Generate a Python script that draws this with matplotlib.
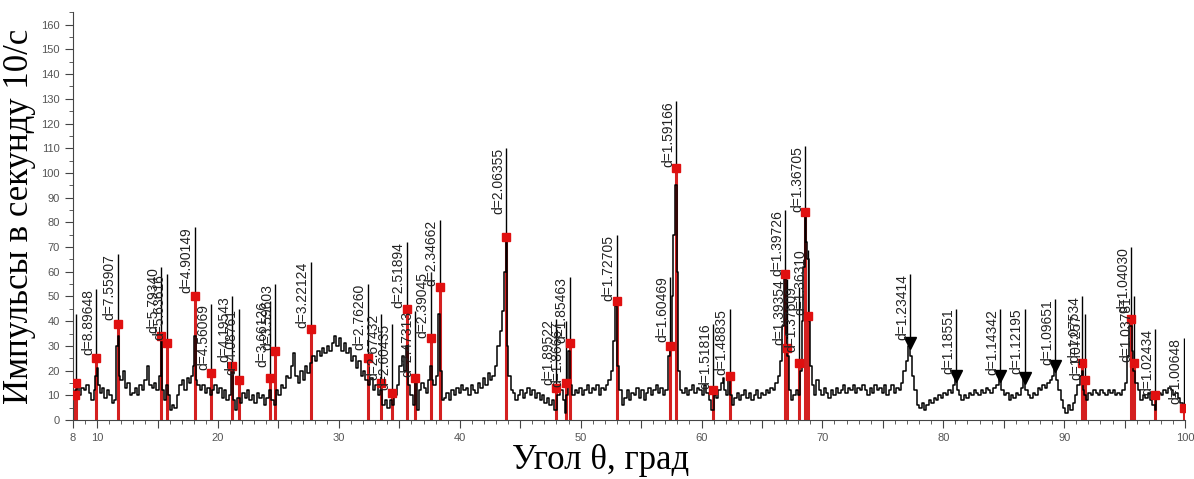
import numpy as np
import matplotlib
matplotlib.use('Agg')
import matplotlib.pyplot as plt

# measured pattern (angle, counts)
theta = [8.15, 8.2, 8.4, 8.6, 8.8, 9.0, 9.2, 9.4, 9.6, 9.8, 9.9, 10.0, 10.1, 10.3, 10.5, 10.7, 10.9, 11.1, 11.3, 11.5,
         11.65, 11.75, 11.85, 12.0, 12.2, 12.4, 12.6, 12.8, 13.0, 13.2, 13.4, 13.6, 13.8, 14.0, 14.2, 14.4, 14.6, 14.8,
         15.0, 15.2, 15.3, 15.4, 15.6, 15.8, 15.9, 16.1, 16.3, 16.5, 16.7, 16.9, 17.1, 17.3, 17.5, 17.7, 17.9, 18.0,
         18.1, 18.2, 18.4, 18.6, 18.8, 19.0, 19.2, 19.45, 19.6, 19.8, 20.0, 20.2, 20.4, 20.6, 20.8, 21.0, 21.2, 21.35,
         21.5, 21.7, 21.9, 22.1, 22.3, 22.5, 22.7, 22.9, 23.1, 23.3, 23.5, 23.7, 23.9, 24.1, 24.3, 24.5, 24.7, 24.9,
         25.1, 25.3, 25.5, 25.7, 25.9, 26.1, 26.3, 26.5, 26.7, 26.9, 27.1, 27.3, 27.5, 27.7, 27.9, 28.1, 28.3, 28.5,
         28.7, 28.9, 29.1, 29.3, 29.5, 29.7, 29.9, 30.1, 30.3, 30.5, 30.7, 30.9, 31.1, 31.3, 31.5, 31.7, 31.9, 32.1,
         32.3, 32.5, 32.7, 32.9, 33.1, 33.3, 33.5, 33.7, 33.9, 34.1, 34.3, 34.5, 34.7, 34.9, 35.1, 35.3, 35.5, 35.65,
         35.8, 36.0, 36.2, 36.35, 36.5, 36.7, 36.9, 37.1, 37.3, 37.5, 37.6, 37.75, 37.9, 38.1, 38.3, 38.45, 38.6, 38.8,
         39.0, 39.2, 39.4, 39.6, 39.8, 40.0, 40.2, 40.4, 40.6, 40.8, 41.0, 41.2, 41.4, 41.6, 41.8, 42.0, 42.2, 42.4,
         42.6, 42.8, 43.0, 43.2, 43.4, 43.6, 43.75, 43.85, 43.95, 44.1, 44.3, 44.5, 44.7, 44.9, 45.1, 45.3, 45.5,
         45.7, 45.9, 46.1, 46.3, 46.5, 46.7, 46.9, 47.1, 47.3, 47.5, 47.7, 47.95, 48.2, 48.4, 48.6, 48.75, 48.9,
         49.05, 49.2, 49.4, 49.6, 49.8, 50.0, 50.2, 50.4, 50.6, 50.8, 51.0, 51.2, 51.4, 51.6, 51.8, 52.0, 52.2, 52.4,
         52.6, 52.8, 52.95, 53.1, 53.3, 53.5, 53.7, 53.9, 54.1, 54.3, 54.5, 54.7, 54.9, 55.1, 55.3, 55.5, 55.7, 55.9,
         56.1, 56.3, 56.5, 56.7, 56.9, 57.1, 57.3, 57.45, 57.6, 57.75, 57.9, 58.0, 58.1, 58.3, 58.5, 58.7, 58.9,
         59.1, 59.3, 59.5, 59.7, 59.9, 60.1, 60.3, 60.5, 60.7, 60.95, 61.1, 61.3, 61.5, 61.7, 61.8, 61.95, 62.1,
         62.3, 62.45, 62.6, 62.8, 63.0, 63.2, 63.4, 63.6, 63.8, 64.0, 64.2, 64.4, 64.6, 64.8, 65.0, 65.2, 65.4, 65.6,
         65.8, 66.0, 66.2, 66.4, 66.6, 66.75, 66.9, 67.05, 67.15, 67.3, 67.5, 67.7, 67.9, 68.05, 68.2, 68.35, 68.5,
         68.6, 68.7, 68.8, 68.9, 69.0, 69.2, 69.4, 69.6, 69.8, 70.0, 70.2, 70.4, 70.6, 70.8, 71.0, 71.2, 71.4, 71.6,
         71.8, 72.0, 72.2, 72.4, 72.6, 72.8, 73.0, 73.2, 73.4, 73.6, 73.8, 74.0, 74.2, 74.4, 74.6, 74.8, 75.0, 75.2,
         75.4, 75.6, 75.8, 76.0, 76.2, 76.4, 76.6, 76.8, 77.0, 77.2, 77.35, 77.5, 77.7, 77.9, 78.1, 78.3, 78.5, 78.7,
         78.9, 79.1, 79.3, 79.5, 79.7, 79.9, 80.1, 80.3, 80.5, 80.7, 80.9, 81.05, 81.2, 81.4, 81.6, 81.8, 82.0, 82.2,
         82.4, 82.6, 82.8, 83.0, 83.2, 83.4, 83.6, 83.8, 84.0, 84.2, 84.45, 84.7, 84.9, 85.1, 85.3, 85.5, 85.7, 85.9,
         86.1, 86.3, 86.5, 86.7, 86.9, 87.1, 87.3, 87.5, 87.7, 87.9, 88.1, 88.3, 88.5, 88.7, 88.9, 89.1, 89.25, 89.4,
         89.6, 89.8, 90.0, 90.2, 90.4, 90.6, 90.8, 91.0, 91.2, 91.4, 91.5, 91.6, 91.7, 91.9, 92.1, 92.3, 92.5, 92.7,
         92.9, 93.1, 93.3, 93.5, 93.7, 93.9, 94.1, 94.3, 94.5, 94.7, 94.9, 95.1, 95.3, 95.5, 95.65, 95.8, 96.0, 96.2,
         96.4, 96.6, 96.8, 97.0, 97.2, 97.4, 97.55, 97.7, 97.9, 98.1, 98.3, 98.5, 98.7, 98.9, 99.1, 99.3, 99.5, 99.7,
         99.9, 100.0]
counts = [10, 12, 14, 10, 13, 12, 14, 11, 8, 12, 18, 21, 14, 11, 13, 9, 12, 10, 7, 8,
          30, 34, 18, 16, 20, 13, 15, 10, 11, 13, 10, 14, 12, 16, 22, 14, 13, 15,
          12, 18, 32, 12, 8, 14, 10, 4, 6, 5, 10, 14, 16, 12, 17, 15, 18, 22,
          34, 16, 14, 12, 14, 11, 13, 10, 12, 14, 11, 13, 9, 12, 8, 10, 21, 8,
          4, 9, 7, 11, 9, 12, 8, 10, 7, 11, 9, 10, 6, 9, 12, 8, 6, 12,
          10, 14, 13, 18, 17, 22, 27, 18, 15, 20, 16, 22, 19, 23, 26, 24, 28, 26,
          29, 27, 30, 28, 31, 34, 30, 33, 28, 31, 27, 29, 24, 26, 21, 24, 18, 20,
          16, 14, 17, 12, 14, 10, 12, 6, 8, 5, 8, 6, 10, 14, 22, 26, 20, 30,
          14, 10, 6, 16, 4, 12, 15, 13, 11, 16, 22, 16, 14, 18, 43, 20, 8, 9,
          11, 8, 12, 10, 13, 11, 14, 12, 13, 10, 14, 12, 11, 15, 13, 17, 14, 19,
          16, 18, 22, 30, 36, 44, 60, 74, 30, 18, 12, 11, 8, 10, 12, 9, 11,
          13, 10, 12, 9, 11, 8, 10, 7, 9, 6, 8, 4, 10, 12, 8, 3, 10,
          28, 14, 10, 12, 11, 13, 10, 12, 14, 11, 13, 12, 14, 10, 13, 12, 14, 16,
          20, 32, 46, 22, 12, 6, 9, 12, 8, 11, 10, 13, 9, 12, 8, 11, 13, 10,
          12, 14, 11, 13, 10, 12, 26, 30, 50, 75, 95, 60, 20, 12, 11, 13, 10,
          12, 14, 11, 13, 12, 10, 14, 11, 8, 4, 10, 9, 12, 15, 17, 12, 10,
          17, 10, 6, 9, 11, 8, 10, 12, 9, 11, 8, 10, 12, 9, 11, 10, 12, 11,
          13, 12, 15, 18, 24, 38, 57, 35, 26, 12, 8, 10, 12, 10, 20, 40, 62,
          82, 72, 65, 40, 22, 14, 10, 16, 12, 10, 13, 11, 9, 12, 10, 13, 11, 12,
          14, 11, 13, 12, 14, 11, 13, 12, 14, 12, 10, 13, 11, 14, 12, 13, 11, 14,
          10, 12, 14, 11, 13, 12, 15, 20, 24, 30, 26, 18, 12, 6, 5, 7, 4, 6,
          8, 7, 9, 8, 10, 9, 11, 10, 12, 11, 14, 17, 12, 10, 8, 10, 9, 11,
          10, 12, 11, 10, 12, 11, 13, 12, 11, 13, 14, 18, 12, 10, 11, 8, 10, 9,
          11, 10, 13, 17, 12, 10, 9, 11, 10, 13, 12, 14, 13, 15, 16, 18, 21, 16,
          12, 8, 5, 3, 6, 4, 7, 10, 14, 18, 20, 12, 10, 8, 11, 10, 12, 11,
          10, 12, 11, 10, 12, 11, 12, 10, 11, 10, 12, 15, 26, 38, 28, 20, 15, 12,
          8, 10, 9, 11, 8, 6, 4, 9, 11, 10, 12, 11, 13, 12, 10, 11, 9, 7,
          5, 4]

# identified reflections (red lines)
red_pos = [8.25, 8.15, 9.93, 11.70, 15.28, 15.80, 18.08, 19.45, 21.16, 21.75, 24.29, 24.74, 27.67, 32.38, 33.48,
           34.41, 35.61, 36.30, 37.60, 38.33, 43.84, 47.96, 48.75, 49.08, 52.98, 57.38, 57.89, 60.98, 62.34,
           66.91, 67.11, 68.08, 68.59, 68.82, 91.50, 91.70, 95.53, 95.80, 97.53, 99.88]
red_int = [15, 10, 25, 39, 34, 31, 50, 19, 22, 16, 17, 28, 37, 25, 15,
           11, 45, 17, 33, 54, 74, 13, 15, 31, 48, 30, 102, 12, 18,
           59, 29, 23, 84, 42, 23, 16, 41, 23, 10, 5]
red_top = [43, 10, 53, 67, 62, 59, 78, 47, 50, 45, 48, 55, 64, 55, 43,
           39, 72, 44, 60, 81, 110, 41, 40, 58, 75, 58, 129, 39, 45,
           85, 57, 54, 111, 69, 50, 43, 70, 50, 37, 33]
red_lbl = ['', '', 'd=8.89648', 'd=7.55907', 'd=5.79340', 'd=5.63616', 'd=4.90149', 'd=4.56069', 'd=4.19543',
           'd=4.08761', 'd=3.66126', 'd=3.59603', 'd=3.22124', 'd=2.76260', 'd=2.67432', 'd=2.60435', 'd=2.51894',
           'd=2.47313', 'd=2.39045', 'd=2.34662', 'd=2.06355', 'd=1.89522', 'd=1.86667', 'd=1.85463', 'd=1.72705',
           'd=1.60469', 'd=1.59166', 'd=1.51816', 'd=1.48835', 'd=1.39726', 'd=1.39354', 'd=1.37609', 'd=1.36705',
           'd=1.36310', 'd=1.07534', 'd=1.07257', 'd=1.04030', 'd=1.03781', 'd=1.02434', 'd=1.00648']

# unassigned peaks (black arrows)
blk_pos = [77.24, 81.04, 84.70, 86.72, 89.26]
blk_int = [31, 18, 18, 17, 22]
blk_top = [59, 45, 45, 45, 49]
blk_lbl = ['d=1.23414', 'd=1.18551', 'd=1.14342', 'd=1.12195', 'd=1.09651']

fig = plt.figure(figsize=(11.94, 4.79), dpi=100)
ax = fig.add_axes([0.0611, 0.1232, 0.9314, 0.851])

ax.vlines(red_pos, 0, red_int, color='#d42020', lw=2.2, zorder=1)
ax.plot(theta, counts, color='black', lw=1.1, drawstyle='steps-mid', zorder=2)
ax.vlines(red_pos, red_int, red_top, color='black', lw=1.0, zorder=3)
ax.vlines(blk_pos, blk_int, blk_top, color='black', lw=1.0, zorder=3)
ax.plot(red_pos, red_int, 's', color='#e01010', ms=5.5, zorder=4)
ax.plot(blk_pos, blk_int, 'v', color='black', ms=8, zorder=4)

for x, t, s in zip(red_pos + blk_pos, red_top + blk_top, red_lbl + blk_lbl):
    if s:
        ax.text(x - 0.08, t, s, rotation=90, ha='right', va='top', fontsize=10,
                family='Liberation Sans', color='#222222', zorder=5)

ax.set_xlim(8, 100)
ax.set_ylim(0, 165)
ax.set_xticks([8, 10, 15, 20, 25, 30, 35, 40, 45, 50, 55, 60, 65, 70, 75, 80, 85, 90, 95, 100])
ax.set_xticklabels(['8', '10', '', '20', '', '30', '', '40', '', '50', '', '60', '', '70', '', '80', '', '90', '', '100'])
ax.set_xticks(np.arange(8, 101, 1), minor=True)
ax.set_yticks(np.arange(0, 161, 10))
ax.set_yticks(np.arange(0, 166, 5), minor=True)
ax.tick_params(axis='both', which='major', length=6, color='#444444', labelsize=8, labelcolor='#555555')
ax.tick_params(axis='both', which='minor', length=3, color='#444444')
for lab in ax.get_xticklabels() + ax.get_yticklabels():
    lab.set_family('Liberation Sans')
ax.spines['top'].set_visible(False)
ax.spines['right'].set_visible(False)
ax.spines['left'].set_color('#444444')
ax.spines['bottom'].set_color('#444444')

ax.set_ylabel('Импульсы в секунду 10/с', family='Liberation Serif', fontsize=25, labelpad=4)
fig.text(0.503, 0.005, 'Угол θ, град', family='Liberation Serif', fontsize=25, ha='center', va='bottom')

fig.savefig('out.png', dpi=100)
